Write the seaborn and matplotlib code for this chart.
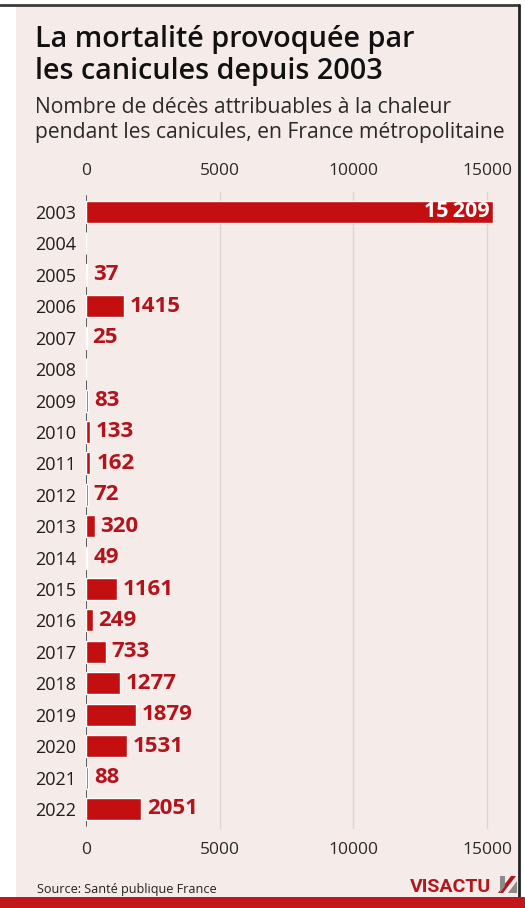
import numpy as np
import pandas as pd
import matplotlib
matplotlib.use("Agg")
import matplotlib.pyplot as plt
import seaborn as sns
from matplotlib.patches import Rectangle, Polygon

# Heat-related deaths during heatwaves, metropolitan France
years = ["2003", "2004", "2005", "2006", "2007", "2008", "2009", "2010", "2011", "2012",
         "2013", "2014", "2015", "2016", "2017", "2018", "2019", "2020", "2021", "2022"]
deaths = [15209, 0, 37, 1415, 25, 0, 83, 133, 162, 72,
          320, 49, 1161, 249, 733, 1277, 1879, 1531, 88, 2051]
xticks = [0, 5000, 10000, 15000]
xtick_labels = ["0", "5000", "10000", "15000"]

title_lines = ["La mortalité provoquée par", "les canicules depuis 2003"]
subtitle_lines = ["Nombre de décès attribuables à la chaleur",
                  "pendant les canicules, en France métropolitaine"]
source = "Source: Santé publique France"

BG = "#f5ebe8"
RED = "#c30f0f"
LABEL_RED = "#b3141c"
TEXT = "#1e1e1e"

sns.set_theme(style="white")
plt.rcParams["font.family"] = ["Open Sans", "DejaVu Sans"]

W, H = 525, 908
fig = plt.figure(figsize=(W / 100, H / 100), dpi=100)
fig.patch.set_facecolor("white")


def fx(px):
    return px / W


def fy(py):
    return 1 - py / H


# card background, frame and bottom band
fig.patches.append(Rectangle((fx(16), fy(897)), fx(518) - fx(16), fy(5) - fy(897),
                             transform=fig.transFigure, facecolor=BG, edgecolor="none",
                             zorder=-5))
fig.add_artist(plt.Line2D([0, fx(519)], [fy(5), fy(5)], transform=fig.transFigure,
                          color="#3a3a3a", lw=2, zorder=-4))
fig.add_artist(plt.Line2D([fx(519), fx(519)], [fy(5), fy(897)], transform=fig.transFigure,
                          color="#222222", lw=2, zorder=-4))
fig.patches.append(Rectangle((0, 0), 1, fy(897), transform=fig.transFigure,
                             facecolor="#c0161c", edgecolor="none", zorder=-4))

# plotting area
x0_px, x15_px = 86, 487
scale = (x15_px - x0_px) / 15000
right_px = 515
xmax = (right_px - x0_px) / scale
row = 31.42
top_center, n = 212, len(years)
ax_top = top_center - 0.65 * row
ax_bot = top_center + (n - 1 + 0.65) * row
ax = fig.add_axes([fx(x0_px), fy(ax_bot), fx(right_px) - fx(x0_px), (ax_bot - ax_top) / H])
ax.set_facecolor("none")

df = pd.DataFrame({"year": years, "deaths": deaths})
sns.barplot(data=df, x="deaths", y="year", orient="h", color=RED, saturation=1,
            width=0.7, ax=ax, zorder=3)

ax.set_xlim(0, xmax)
ax.set_ylim(n - 1 + 0.65, -0.65)
ax.set_xlabel("")
ax.set_ylabel("")
ax.set_xticks(xticks)
ax.set_xticklabels(xtick_labels)
ax.tick_params(axis="x", length=0, labelsize=12.5, labelcolor="#2a2a2a",
               top=True, labeltop=True, bottom=True, labelbottom=True, pad=9)
ax.tick_params(axis="y", length=0, labelsize=13, labelcolor=TEXT, pad=7)

for v in xticks[1:]:
    ax.axvline(v, color="#ddd5d2", lw=1, zorder=1)
ax.axvline(0, color="#5a5a5a", lw=1.4, ymin=0.005, ymax=0.993, zorder=2)
for s in ax.spines.values():
    s.set_visible(False)

# value labels
for i, v in enumerate(deaths):
    if v == 0:
        continue
    if i == 0:
        txt = f"{v:,}".replace(",", "\u2009")
        ax.text(v - 110, i, txt, ha="right", va="center", color="white",
                fontsize=15.5, fontweight="bold", zorder=5)
    else:
        ax.text(v + 220, i, f"{v}", ha="left", va="center", color=LABEL_RED,
                fontsize=16, fontweight="bold", zorder=5)

# title block
for line, base in zip(title_lines, [47, 79]):
    fig.text(fx(35), fy(base), line, ha="left", va="baseline", fontsize=20.7,
             fontweight="semibold", color="#111111")
for line, base in zip(subtitle_lines, [113, 138]):
    fig.text(fx(35), fy(base), line, ha="left", va="baseline", fontsize=15.2,
             color="#2a2a2a")

# footer
fig.text(fx(37), fy(893), source, ha="left", va="baseline", fontsize=9.1, color="#222222")
fig.text(fx(410), fy(892), "VISACTU", ha="left", va="baseline", fontsize=14,
         fontweight="bold", color="#b3161c", family=["Roboto", "DejaVu Sans"])
fig.patches.append(Polygon([(fx(498), fy(893)), (fx(503), fy(893)), (fx(516), fy(876)),
                            (fx(511), fy(876))], closed=True, transform=fig.transFigure,
                           facecolor="#b3161c", edgecolor="none"))
fig.patches.append(Polygon([(fx(500), fy(876)), (fx(505), fy(876)), (fx(505), fy(886)),
                            (fx(500), fy(893))], closed=True, transform=fig.transFigure,
                           facecolor="#8a8a8a", edgecolor="none"))
fig.patches.append(Polygon([(fx(508), fy(893)), (fx(517), fy(881)), (fx(517), fy(893))],
                           closed=True, transform=fig.transFigure,
                           facecolor="#8a8a8a", edgecolor="none"))

fig.savefig("out.png", dpi=100, facecolor=fig.get_facecolor())
